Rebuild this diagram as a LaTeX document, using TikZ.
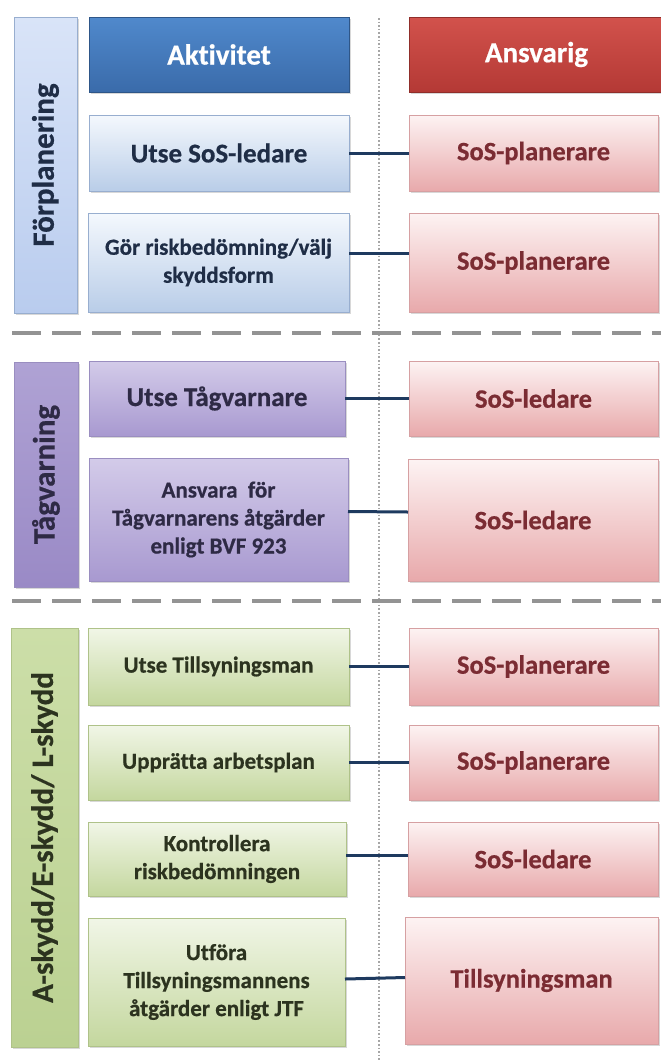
\documentclass[tikz,border=0pt]{standalone}
\usepackage{fontspec}
\setmainfont{Carlito}[Ligatures=NoCommon, BoldFeatures={FakeBold=0.6}]
\usetikzlibrary{shadows}
\definecolor{hbtop}{HTML}{5089CC}
\definecolor{hbbot}{HTML}{3A6BAA}
\definecolor{hrtop}{HTML}{D2524C}
\definecolor{hrbot}{HTML}{B43935}
\definecolor{lbtop}{HTML}{F4F8FD}
\definecolor{lbbot}{HTML}{B9CDE8}
\definecolor{lbdraw}{HTML}{98AECF}
\definecolor{pktop}{HTML}{FDF3F3}
\definecolor{pkbot}{HTML}{E8A9AB}
\definecolor{pkdraw}{HTML}{D6A0A2}
\definecolor{putop}{HTML}{D3CBE9}
\definecolor{pubot}{HTML}{A899D0}
\definecolor{pudraw}{HTML}{9A8EC0}
\definecolor{grtop}{HTML}{F1F6E7}
\definecolor{grbot}{HTML}{C4D79E}
\definecolor{grdraw}{HTML}{AFC289}
\definecolor{bartop1}{HTML}{D9E4F8}
\definecolor{barbot1}{HTML}{B9CCEE}
\definecolor{bartop2}{HTML}{AFA2D4}
\definecolor{barbot2}{HTML}{9A8AC6}
\definecolor{bartop3}{HTML}{CCDEA8}
\definecolor{barbot3}{HTML}{BBD192}
\definecolor{txblue}{HTML}{1F2D46}
\definecolor{txpurple}{HTML}{2E2A45}
\definecolor{txgreen}{HTML}{2C331F}
\definecolor{txred}{HTML}{7B2C33}
\definecolor{connc}{HTML}{1E3A5F}
\newcommand\bx[7]{\node[#2, anchor=north west, minimum width={#5pt-#3pt}, minimum height={#6pt-#4pt}] (#1) at (#3,#4) {#7};}
\begin{document}
\begin{tikzpicture}[x=1pt,y=-1pt,
  base/.style={rectangle, inner sep=0pt, outer sep=0pt, line width=1pt, align=center,
    drop shadow={opacity=0.3, shadow xshift=1.5pt, shadow yshift=-2pt}},
  hdrblue/.style={base, draw=hbbot!80!black, top color=hbtop, bottom color=hbbot, text=white, font=\fontsize{29}{34}\selectfont\bfseries},
  hdrred/.style={base, draw=hrbot!80!black, top color=hrtop, bottom color=hrbot, text=white, font=\fontsize{29}{34}\selectfont\bfseries},
  actblue/.style={base, draw=lbdraw, top color=lbtop, bottom color=lbbot, text=txblue},
  actpurple/.style={base, draw=pudraw, top color=putop, bottom color=pubot, text=txpurple},
  actgreen/.style={base, draw=grdraw, top color=grtop, bottom color=grbot, text=txgreen},
  resp/.style={base, draw=pkdraw, top color=pktop, bottom color=pkbot, text=txred, font=\fontsize{26.5}{31}\selectfont\bfseries},
  big/.style={font=\fontsize{27}{32}\selectfont\bfseries},
  small/.style={font=\fontsize{23}{28}\selectfont\bfseries},
  bar1/.style={base, draw=lbdraw, top color=bartop1, bottom color=barbot1},
  bar2/.style={base, draw=pudraw, top color=bartop2, bottom color=barbot2},
  bar3/.style={base, draw=grdraw, top color=bartop3, bottom color=barbot3},
  barlabel/.style={rotate=90, inner sep=0pt, font=\fontsize{31}{36}\selectfont\bfseries},
  conn/.style={draw=connc, line width=3pt},
  sep/.style={draw=gray!85, line width=3.5pt, dash pattern=on 29pt off 11pt},
  vdot/.style={draw=gray!70, line width=1.6pt, dash pattern=on 1.6pt off 2pt}
]
\fill[white] (0,0) rectangle (661,1061);
\useasboundingbox (0,0) rectangle (661,1061);

% guides
\coordinate (vtop) at (379,18);
\coordinate (vbot) at (379,1061);
\draw[vdot] (vtop) -- (vbot);
\coordinate (s1a) at (12,333);
\coordinate (s1b) at (661,333);
\coordinate (s2a) at (12,601);
\coordinate (s2b) at (661,601);
\draw[sep] (s1a) -- (s1b);
\draw[sep] (s2a) -- (s2b);

% headers
\bx{hA}{hdrblue}{89}{17}{349}{92}{Aktivitet}
\bx{hR}{hdrred}{409}{17}{664}{92}{Ansvarig}

% section 1
\bx{b1}{bar1}{14}{17}{77}{313}{}
\node[barlabel, text=txblue] (lb1) at (b1.center) {Förplanering};
\bx{a1}{actblue,big}{89}{115}{349}{191}{Utse SoS-ledare}
\bx{r1}{resp}{409}{115}{658}{191}{SoS-planerare}
\bx{a2}{actblue,small}{88}{213}{349}{312}{Gör riskbedömning/välj\\skyddsform}
\bx{r2}{resp}{409}{213}{658}{312}{SoS-planerare}

% section 2
\bx{b2}{bar2}{14}{362}{78}{587}{}
\node[barlabel, text=txpurple] (lb2) at (b2.center) {Tågvarning};
\bx{a3}{actpurple,big}{89}{361}{345}{436}{Utse Tågvarnare}
\bx{r3}{resp}{409}{361}{658}{436}{SoS-ledare}
\bx{a4}{actpurple,small}{89}{458}{348}{581}{Ansvara~ för\\Tågvarnarens åtgärder\\enligt BVF 923}
\bx{r4}{resp}{408}{459}{658}{581}{SoS-ledare}

% section 3
\bx{b3}{bar3}{11}{628}{78}{1047}{}
\node[barlabel, text=txgreen] (lb3) at (b3.center) {A-skydd/E-skydd/ L-skydd};
\bx{a5}{actgreen,small}{88}{628}{349}{705}{Utse Tillsyningsman}
\bx{r5}{resp}{409}{628}{658}{705}{SoS-planerare}
\bx{a6}{actgreen,small}{88}{725}{349}{800}{Upprätta arbetsplan}
\bx{r6}{resp}{409}{725}{658}{800}{SoS-planerare}
\bx{a7}{actgreen,small}{88}{822}{346}{896}{Kontrollera\\riskbedömningen}
\bx{r7}{resp}{408}{822}{658}{896}{SoS-ledare}
\bx{a8}{actgreen,small}{88}{918}{345}{1046}{Utföra\\Tillsyningsmannens\\åtgärder enligt JTF}
\bx{r8}{resp}{405}{917}{658}{1044}{Tillsyningsman}

% connectors
\draw[conn] (a1.east) -- (r1.west);
\draw[conn] ([yshift=9pt]a2.east) -- ([yshift=9pt]r2.west);
\draw[conn] (a3.east) -- (r3.west);
\draw[conn] ([yshift=8pt]a4.east) -- ([yshift=8pt]r4.west);
\draw[conn] (a5.east) -- (r5.west);
\draw[conn] (a6.east) -- (r6.west);
\draw[conn] ([yshift=4pt]a7.east) -- ([yshift=4pt]r7.west);
\draw[conn] ([yshift=3pt]a8.east) -- ([yshift=3pt]r8.west);
\end{tikzpicture}
\end{document}
